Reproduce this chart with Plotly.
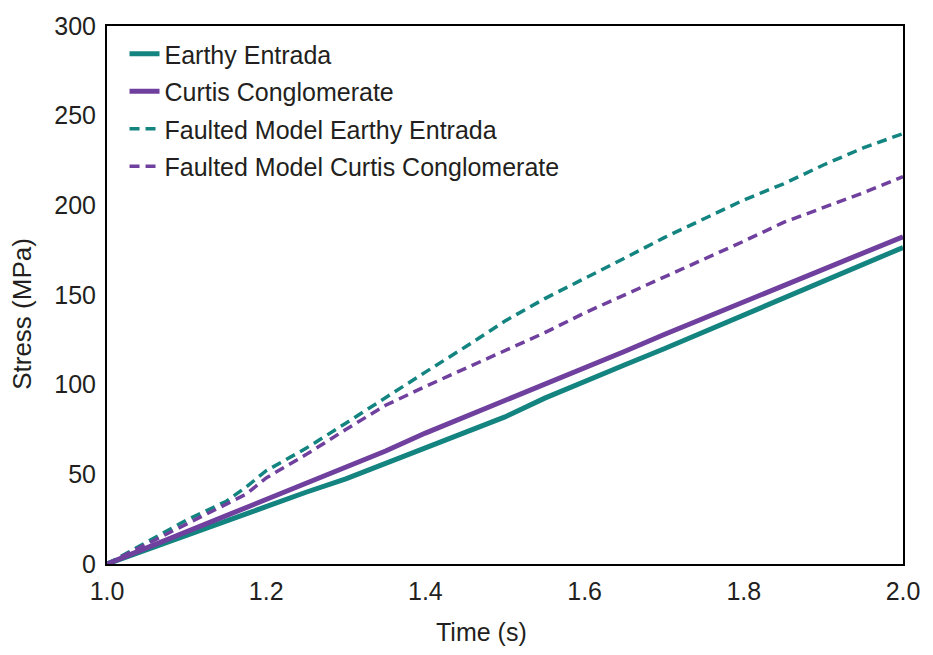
import plotly.graph_objects as go

# Loading time (s) and stress (MPa) for each rock model
time_s = [1.00, 1.05, 1.10, 1.15, 1.175, 1.20, 1.25, 1.30, 1.35, 1.40, 1.45,
          1.50, 1.55, 1.60, 1.65, 1.70, 1.75, 1.80, 1.85, 1.90, 1.95, 2.00]

earthy_entrada = [0, 8, 16, 24.5, 28.5, 32, 40, 47.5, 56, 64.5, 73,
                  82, 92.5, 102, 111, 120, 129.5, 139, 148.5, 158, 167, 176.5]
curtis_conglomerate = [0, 9, 18, 27, 31.5, 36, 44.5, 53.5, 63, 73, 82,
                       91, 100, 109, 118.5, 128, 137, 146, 155, 164, 173.5, 182.5]
faulted_earthy_entrada = [0, 12, 24.5, 35, 43, 52, 64.5, 78.5, 93, 107, 121,
                          135.5, 148, 159, 170.5, 182, 192.5, 203, 212, 222.5, 232, 240]
faulted_curtis_conglomerate = [0, 11, 22, 33, 39, 48, 61, 75, 88.5, 99, 109,
                               119.5, 129, 140, 150, 159.5, 170, 180, 190.5, 198.5, 207, 216]

x_ticks = [1.0, 1.2, 1.4, 1.6, 1.8, 2.0]
y_ticks = [0, 50, 100, 150, 200, 250, 300]

TEAL = "#138480"
PURPLE = "#70409e"
FONT = "Liberation Sans, Arial, sans-serif"
TEXT = "#231f20"

series = [
    ("Earthy Entrada", earthy_entrada, TEAL, 5, "solid"),
    ("Curtis Conglomerate", curtis_conglomerate, PURPLE, 5, "solid"),
    ("Faulted Model Earthy Entrada", faulted_earthy_entrada, TEAL, 3.5, "10px,6px"),
    ("Faulted Model Curtis Conglomerate", faulted_curtis_conglomerate, PURPLE, 3.5, "10px,6px"),
]

fig = go.Figure()
for i, (name, vals, color, width, dash) in enumerate(series):
    fig.add_trace(go.Scatter(
        x=time_s, y=vals, mode="lines", name=name,
        legendgroup=f"g{i}",
        line=dict(color=color, width=width, dash=dash),
    ))

axis_common = dict(
    showgrid=False, zeroline=False, showline=True, mirror=True,
    linecolor="black", linewidth=2, ticks="",
    tickfont=dict(family=FONT, size=25, color=TEXT),
)

fig.update_layout(
    width=933, height=655,
    margin=dict(l=107, r=30, t=23, b=91),
    paper_bgcolor="white", plot_bgcolor="white",
    font=dict(family=FONT, color=TEXT),
    xaxis=dict(
        range=[1.0, 2.0], tickvals=x_ticks,
        ticktext=[f"{v:.1f}" for v in x_ticks],
        ticklabelstandoff=4,
        **axis_common,
    ),
    yaxis=dict(
        range=[0, 300], tickvals=y_ticks,
        ticklabelstandoff=4,
        **axis_common,
    ),
    legend=dict(
        x=0.022, y=0.9905, xanchor="left", yanchor="top",
        bgcolor="rgba(0,0,0,0)", borderwidth=0,
        font=dict(family=FONT, size=25, color=TEXT),
        tracegroupgap=2, traceorder="grouped",
    ),
    showlegend=True,
    annotations=[
        # axis titles
        dict(text="Time (s)", xref="paper", yref="paper", x=0.47, y=-0.126,
             xanchor="center", yanchor="middle", showarrow=False,
             font=dict(family=FONT, size=25, color=TEXT)),
        dict(text="Stress (MPa)", xref="paper", yref="paper", x=-0.1068, y=0.465,
             xanchor="center", yanchor="middle", showarrow=False, textangle=-90,
             font=dict(family=FONT, size=26, color=TEXT)),
    ],
)

fig.write_html("out.html")
